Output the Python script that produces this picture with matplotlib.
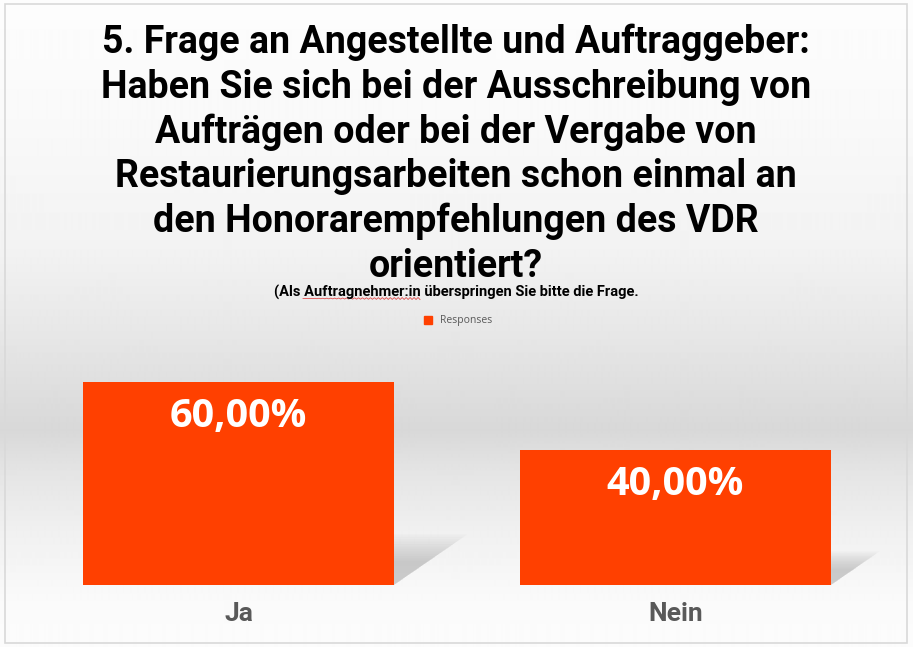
import numpy as np
import matplotlib
matplotlib.use("Agg")
import matplotlib.pyplot as plt
from matplotlib.patches import Rectangle, Polygon
from matplotlib.lines import Line2D

# chart data
categories = ["Ja", "Nein"]
responses = [0.60, 0.40]
labels = ["60,00%", "40,00%"]
series_name = "Responses"
title = ("5. Frage an Angestellte und Auftraggeber:\n"
         "Haben Sie sich bei der Ausschreibung von\n"
         "Aufträgen oder bei der Vergabe von\n"
         "Restaurierungsarbeiten schon einmal an\n"
         "den Honorarempfehlungen des VDR\n"
         "orientiert?")
subtitle = "(Als Auftragnehmer:in überspringen Sie bitte die Frage."

bar_color = "#FF4000"
W, H = 913, 647

fig = plt.figure(figsize=(W / 100, H / 100), dpi=100)

# background gradient (white -> grey band -> white)
bg = fig.add_axes([0, 0, 1, 1], zorder=-10)
ys = np.arange(H)
stops_y = [0, 120, 250, 340, 430, 470, 530, 600, 647]
stops_v = [253, 249, 242, 230, 216, 228, 240, 250, 252]
vals = np.interp(ys, stops_y, stops_v) / 255.0
img = np.repeat(vals[:, None], 2, axis=1)
bg.imshow(img, cmap="gray", vmin=0, vmax=1, aspect="auto",
          extent=[0, 1, 0, 1], origin="upper", interpolation="bilinear")
bg.set_xlim(0, 1)
bg.set_ylim(0, 1)
bg.axis("off")
# outer border
bg.add_patch(Rectangle((5 / W, 4 / H), 902 / W, 639 / H, fill=False,
                       edgecolor="#d9d9d9", linewidth=1.2))

# plot area
ax = fig.add_axes([20 / W, 62 / H, 874 / W, 245 / H])
ax.patch.set_alpha(0)
x = np.arange(len(categories))
width = 0.71
ax.bar(x, responses, width=width, color=bar_color, zorder=3)
ax.set_xlim(-0.5, 1.5)
ax.set_ylim(0, 0.724)

# soft perspective shadows behind bars
for xi, v in zip(x, responses):
    left, right = xi - width / 2, xi + width / 2
    dx, dy = 0.267 * v, 0.237 * v
    for k in range(12):
        s = 1.05 - k * 0.05
        poly = Polygon([(left, 0), (left + dx * s, dy * s),
                        (right + dx * s, dy * s), (right, 0)],
                       closed=True, facecolor="#a0a0a0", edgecolor="none",
                       alpha=0.05, zorder=2)
        ax.add_patch(poly)

# data labels
for xi, v, lab in zip(x, responses, labels):
    ax.annotate(lab, (xi, v), xytext=(0, -11), textcoords="offset points",
                ha="center", va="top", color="white", fontsize=28.5,
                fontweight="bold", family="Open Sans", zorder=4)

ax.set_xticks(x)
ax.set_xticklabels(categories, fontsize=19, fontweight="bold",
                   color="#595959", family="Roboto")
ax.tick_params(axis="x", length=0, pad=12)
ax.set_yticks([])
for sp in ax.spines.values():
    sp.set_visible(False)

# titles
fig.text(456 / W, 1 - 24 / H, title, ha="center", va="top", fontsize=27,
         fontweight="bold", family="Roboto", color="black", linespacing=1.255)
fig.text(456 / W, 1 - 292 / H, subtitle, ha="center", va="center",
         fontsize=10.5, fontweight="bold", family="Roboto", color="black")

# spell-check squiggle under "Auftragnehmer:in"
sx = np.linspace(303, 420, 60)
sy = 298.5 + 1.0 * np.sin((sx - 303) * 2 * np.pi / 4.0)
bg.plot(sx / W, 1 - sy / H, color="#e05050", linewidth=0.6)

# legend
handle = Line2D([], [], marker="s", linestyle="none", markersize=6,
                color=bar_color, label=series_name)
fig.legend(handles=[handle], loc="center", bbox_to_anchor=(455 / W, 1 - 321 / H),
           frameon=False, handletextpad=0.1, prop={"family": "Open Sans", "size": 7.5},
           labelcolor="#595959")

fig.savefig("out.png", dpi=100)
